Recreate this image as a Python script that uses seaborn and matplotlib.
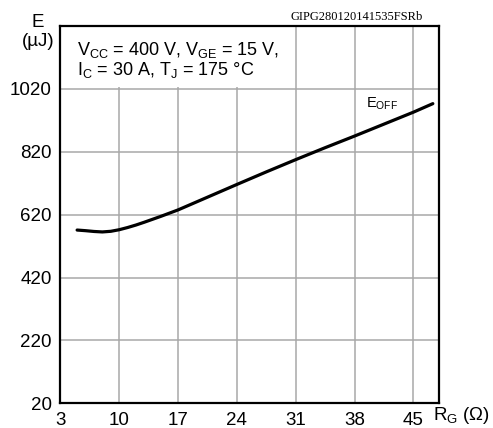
import matplotlib
matplotlib.use("Agg")
import matplotlib.pyplot as plt
import seaborn as sns
import pandas as pd
from matplotlib.patches import Rectangle

# values
rg = [5.0, 6.0, 7.0, 8.0, 9.0, 10.0, 11.0, 12.0, 13.0, 14.0, 15.0, 16.0, 17.0, 20.5, 24.0,
      27.5, 31.0, 34.5, 38.0, 41.5, 45.0, 47.3]
eoff = [571, 569, 566.5, 565, 567, 572, 579, 587, 596, 605.5, 615, 625, 635, 675.5, 716,
        756, 795, 833, 870, 908, 946, 973]
x_ticks = [3, 10, 17, 24, 31, 38, 45]
y_ticks = [20, 220, 420, 620, 820, 1020]

df = pd.DataFrame({"Rg": rg, "Eoff": eoff})

sns.set_style("white")
plt.rcParams["font.family"] = ["Liberation Sans", "DejaVu Sans"]
plt.rcParams["mathtext.fontset"] = "custom"
plt.rcParams["mathtext.rm"] = "Liberation Sans"
plt.rcParams["mathtext.it"] = "Liberation Sans"
plt.rcParams["text.color"] = "black"
plt.rcParams["xtick.color"] = "black"
plt.rcParams["ytick.color"] = "black"

fig, ax = plt.subplots(figsize=(4.93, 4.28), dpi=100)
fig.subplots_adjust(left=0.1223, right=0.8899, top=0.9393, bottom=0.0577)

sns.lineplot(data=df, x="Rg", y="Eoff", ax=ax, color="black", linewidth=2.3, zorder=5)

ax.set_xlim(3, 48)
ax.set_ylim(20, 1220)
ax.set_xticks(x_ticks)
ax.set_yticks(y_ticks)
ax.set_xticklabels([str(t) for t in x_ticks], fontsize=13.5)
ax.set_yticklabels([str(t) for t in y_ticks], fontsize=13.5)
ax.tick_params(length=0, pad=6)
ax.set_xlabel("")
ax.set_ylabel("")

for t in x_ticks[1:]:
    ax.axvline(t, color="#a8a8a8", linewidth=1.1, zorder=1)
for t in y_ticks[1:]:
    ax.axhline(t, color="#a8a8a8", linewidth=1.1, zorder=1)

for s in ax.spines.values():
    s.set_color("black")
    s.set_linewidth(1.6)
    s.set_zorder(10)

# white box behind the conditions text
ax.add_patch(Rectangle((0.003, 0.837), 0.594, 0.16, transform=ax.transAxes,
                       facecolor="white", edgecolor="none", zorder=3))
ax.text(0.045, 0.923, r"V$_{\mathrm{CC}}$ = 400 V, V$_{\mathrm{GE}}$ = 15 V,",
        transform=ax.transAxes, fontsize=13, va="baseline", ha="left", zorder=4)
ax.text(0.045, 0.870, r"I$_{\mathrm{C}}$ = 30 A, T$_{\mathrm{J}}$ = 175 °C",
        transform=ax.transAxes, fontsize=13, va="baseline", ha="left", zorder=4)

ax.text(39.3, 973, r"E$_{\mathrm{OFF}}$", fontsize=10.5, va="center", ha="left", zorder=4)

fig.text(0.076, 0.947, "E", fontsize=13.5, ha="center", va="center")
fig.text(0.078, 0.904, "(µJ)", fontsize=13.5, ha="center", va="center")
fig.text(0.7235, 0.960, "GIPG280120141535FSRb", fontsize=9,
         family="Liberation Serif", ha="center", va="center")
fig.text(0.878, 0.030, r"R$_{\mathrm{G}}$ ($\Omega$)", fontsize=13.5, ha="left", va="center")

fig.savefig("out.png", dpi=100)
